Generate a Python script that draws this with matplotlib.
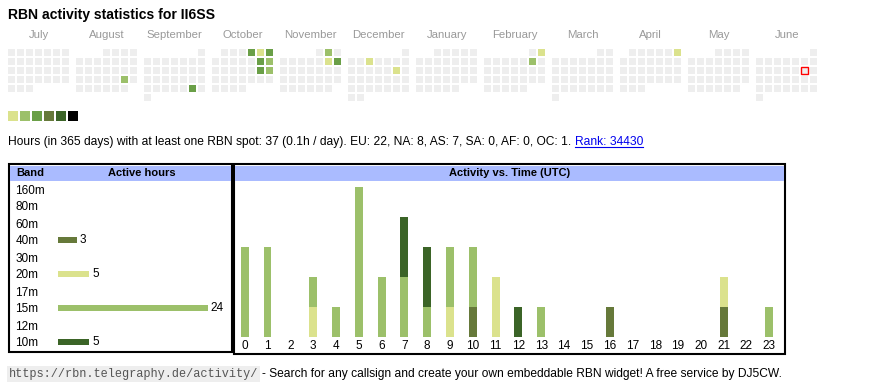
import datetime as dt
import matplotlib
matplotlib.use("Agg")
import matplotlib.pyplot as plt
from matplotlib.patches import Rectangle
from matplotlib.lines import Line2D

plt.rcParams['font.family'] = ['Liberation Sans', 'DejaVu Sans']

W, H = 870, 390

callsign = "II6SS"
month_names = ["July", "August", "September", "October", "November", "December",
               "January", "February", "March", "April", "May", "June"]
first_month = dt.date(2024, 7, 1)
today = dt.date(2025, 6, 14)

active_days = [dt.date(2024, 8, 24), dt.date(2024, 9, 28),
               dt.date(2024, 10, 4), dt.date(2024, 10, 5), dt.date(2024, 10, 6),
               dt.date(2024, 10, 12), dt.date(2024, 10, 13),
               dt.date(2024, 10, 19), dt.date(2024, 10, 20),
               dt.date(2024, 11, 2), dt.date(2024, 11, 9), dt.date(2024, 11, 10),
               dt.date(2024, 12, 4), dt.date(2024, 12, 14),
               dt.date(2025, 2, 2), dt.date(2025, 2, 8), dt.date(2025, 4, 6)]
active_levels = [2, 3, 3, 1, 3, 3, 2, 3, 2, 2, 1, 3, 1, 1, 1, 2, 1]
level_colors = ["#dbe28d", "#9cc06a", "#6a9f47", "#66793a", "#3b6427", "#000000"]

bands = ["160m", "80m", "60m", "40m", "30m", "20m", "17m", "15m", "12m", "10m"]
band_hours = [0, 0, 0, 3, 0, 5, 0, 24, 0, 5]
band_colors = {"40m": "#66793a", "20m": "#dbe28d", "15m": "#9cc06a", "10m": "#3b6427"}

utc_hours = list(range(24))
hours_40m = [0, 0, 0, 0, 0, 0, 0, 0, 0, 0, 1, 0, 0, 0, 0, 0, 1, 0, 0, 0, 0, 1, 0, 0]
hours_20m = [0, 0, 0, 1, 0, 0, 0, 0, 0, 1, 0, 2, 0, 0, 0, 0, 0, 0, 0, 0, 0, 1, 0, 0]
hours_15m = [3, 3, 0, 1, 1, 5, 2, 2, 1, 2, 2, 0, 0, 1, 0, 0, 0, 0, 0, 0, 0, 0, 0, 1]
hours_10m = [0, 0, 0, 0, 0, 0, 0, 2, 2, 0, 0, 0, 1, 0, 0, 0, 0, 0, 0, 0, 0, 0, 0, 0]

summary = ("Hours (in 365 days) with at least one RBN spot: 37 (0.1h / day). "
           "EU: 22, NA: 8, AS: 7, SA: 0, AF: 0, OC: 1. ")
rank_text = "Rank: 34430"
footer_url = "https://rbn.telegraphy.de/activity/"
footer_text = "- Search for any callsign and create your own embeddable RBN widget! A free service by DJ5CW."


def px_axes(fig, x0, y0, x1, y1):
    # axes from a pixel box (top-left origin)
    return fig.add_axes([x0 / W, 1 - y1 / H, (x1 - x0) / W, (y1 - y0) / H])


fig = plt.figure(figsize=(W / 100, H / 100), dpi=100)

# background layer in pixel coordinates for text and frames
bg = fig.add_axes([0, 0, 1, 1])
bg.set_xlim(0, W)
bg.set_ylim(H, 0)
bg.axis("off")

bg.text(8, 15, "RBN activity statistics for " + callsign, fontsize=10.1,
        fontweight="bold", va="center", ha="left")

# ---- calendar ----
cell_pitch = 9.0
month_pitch = 68.0 / cell_pitch
cal = px_axes(fig, 8.3, 49, W, 49 + 6 * cell_pitch)
cal.set_xlim(0, (W - 8.3) / cell_pitch)
cal.set_ylim(6, 0)
cal.axis("off")

level_of = dict(zip(active_days, active_levels))
xs, ys, cs = [], [], []
for m in range(12):
    y = first_month.year + (first_month.month - 1 + m) // 12
    mo = (first_month.month - 1 + m) % 12 + 1
    d = dt.date(y, mo, 1)
    offset = d.weekday()
    while d.month == mo:
        xs.append(m * month_pitch + d.weekday())
        ys.append((d.day - 1 + offset) // 7)
        lv = level_of.get(d)
        cs.append(level_colors[lv - 1] if lv else "#eeeeee")
        d += dt.timedelta(days=1)
    cal.text(m * month_pitch + 3.39, -1.55, month_names[m], ha="center",
             va="center", fontsize=8.2, color="#999999", clip_on=False)

cal.bar(xs, 0.78, width=0.78, bottom=ys, align="edge", color=cs)
tm = (today.year - first_month.year) * 12 + today.month - first_month.month
t_off = today.replace(day=1).weekday()
cal.bar([tm * month_pitch + today.weekday()], 0.74, width=0.74,
        bottom=[(today.day - 1 + t_off) // 7], align="edge",
        fill=False, edgecolor="red", linewidth=1)

# level legend squares
leg = px_axes(fig, 8.3, 111, 8.3 + 6 * 12, 121)
leg.bar(range(6), 1, width=0.8, color=level_colors)
leg.set_xlim(-0.4, 5.6)
leg.set_ylim(0, 1)
leg.axis("off")

# summary line
t1 = bg.text(8, 142, summary, fontsize=8.65, va="center", ha="left")

# ---- frames ----
bg.add_patch(Rectangle((9.5, 164), 223, 188, fill=False, lw=1.5, ec="black"))
bg.add_patch(Rectangle((234, 164), 551, 190, fill=False, lw=1.5, ec="black"))
bg.add_patch(Rectangle((10.5, 166), 220.5, 14.5, color="#aabbff", lw=0))
bg.add_patch(Rectangle((235, 166), 549, 14.5, color="#aabbff", lw=0))
bg.text(16, 173, "Band", fontsize=8, fontweight="bold", va="center")
bg.text(142, 173, "Active hours", fontsize=8, fontweight="bold", va="center", ha="center")
bg.text(509.5, 173, "Activity vs. Time (UTC)", fontsize=8, fontweight="bold",
        va="center", ha="center")

# ---- band table ----
px_per_hour = 6.25
bax = px_axes(fig, 58, 180.5, 232, 350.5)
bax.set_xlim(0, 174 / px_per_hour)
bax.set_ylim(len(bands) - 0.5, -0.5)
bax.barh(range(len(bands)), band_hours, height=0.35,
         color=[band_colors.get(b, "#9cc06a") for b in bands])
for i, h in enumerate(band_hours):
    if h:
        bax.text(h + 0.45, i, str(h), va="center", ha="left", fontsize=8.5)
bax.set_yticks(range(len(bands)), bands, fontsize=8.5)
for lab in bax.get_yticklabels():
    lab.set_ha("left")
bax.tick_params(axis="y", length=0, pad=30.6)
bax.set_xticks([])
for s in bax.spines.values():
    s.set_visible(False)
bax.patch.set_alpha(0)

# ---- activity vs time ----
aax = px_axes(fig, 235, 181, 784, 336.7)
aax.set_xlim(-0.425, 23.65)
aax.set_ylim(0, 5.19)
bottom = [0] * 24
for vals, band in [(hours_40m, "40m"), (hours_20m, "20m"),
                   (hours_15m, "15m"), (hours_10m, "10m")]:
    aax.bar(utc_hours, vals, width=0.35, bottom=bottom, color=band_colors[band])
    bottom = [a + b for a, b in zip(bottom, vals)]
aax.set_xticks(utc_hours, [str(h) for h in utc_hours], fontsize=8.5)
aax.tick_params(axis="x", length=0, pad=2.5)
aax.set_yticks([])
for s in aax.spines.values():
    s.set_visible(False)
aax.patch.set_alpha(0)

# ---- footer ----
t_url = bg.text(8.5, 374, footer_url, family=["Liberation Mono", "DejaVu Sans Mono"],
                fontsize=8.55, color="#555555", va="center", ha="left",
                bbox=dict(facecolor="#eeeeee", edgecolor="none", pad=1.2))

fig.canvas.draw()
r = fig.canvas.get_renderer()
bb = t1.get_window_extent(r)
t_rank = bg.text(bb.x1, 142, rank_text, fontsize=8.65, color="#0000ee",
                 va="center", ha="left")
bb_u = t_url.get_window_extent(r)
bg.text(bb_u.x1 + 4, 374, footer_text,
        family=["Liberation Sans Narrow", "Liberation Sans"], fontsize=8.65,
        va="center", ha="left")
fig.canvas.draw()
bb_r = t_rank.get_window_extent(r)
uy = H - bb_r.y0 - 1.5
bg.add_line(Line2D([bb_r.x0, bb_r.x1], [uy, uy], color="#0000ee", lw=0.8))

fig.savefig("out.png", dpi=100)
